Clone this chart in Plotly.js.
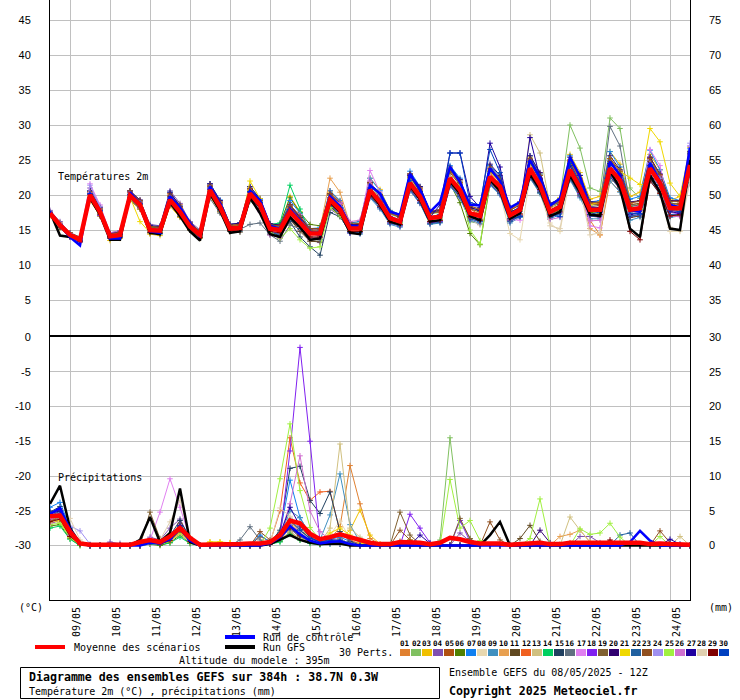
<!DOCTYPE html>
<html><head><meta charset="utf-8">
<script src="https://cdn.plot.ly/plotly-3.0.1.min.js"></script>
<style>html,body{margin:0;padding:0;background:#fff}</style>
</head><body><div id="chart" style="width:740px;height:700px"></div>
<script>
// ---- time axis: GEFS run 08/05/2025 12Z, 6-hourly steps up to 384h
const stepHours = 6, nSteps = 65;
const leadHours = Array.from({length: nSteps}, (_, i) => i * stepHours);
const dayLabels = ['09/05','10/05','11/05','12/05','13/05','14/05','15/05','16/05','17/05','18/05','19/05','20/05','21/05','22/05','23/05','24/05'];
const dayTickHours = dayLabels.map((_, k) => 12 + 24 * k);

const tempTicks = [5,10,15,20,25,30,35,40,45];
const tempTicksRight = ['35','40','45','50','55','60','65','70','75'];
const precipTicks = [0,5,10,15,20,25,30];
const precipTicksLeft = ['-30','-25','-20','-15','-10','-5','0'];
const precipTicksRight = ['0','5','10','15','20','25','30'];

const pertLabels = ['01','02','03','04','05','06','07','08','09','10','11','12','13','14','15','16','17','18','19','20','21','22','23','24','25','26','27','28','29','30'];
const pertColors = ['#e08030','#80c060','#f0c000','#8050b0','#b05010','#508000','#1080f0','#e8d8b0','#4090c0','#e8a050','#604820','#f06020','#d0c080','#00d060','#204060','#607080','#e080f0','#8020f0','#806030','#300070','#f0d800','#2060a0','#905020','#a090f0','#a0f040','#d070d0','#2000a0','#e0d0b0','#800000','#0040c0'];

// ---- 2m temperature (°C)
const tMean = [17.4,15.7, 14.3,13.6,20.0,17.6, 14.1,14.3,19.9,18.6, 15.0,14.9,19.3,17.6, 15.5,14.3,20.7,18.3, 15.2,15.3,20.2,18.6, 15.2,15.0,17.6,16.0, 14.5,14.5,19.3,17.9, 15.2,15.2,20.7,19.0, 16.7,16.2,21.7,19.8, 16.7,16.9,22.4,20.7, 17.4,17.0,22.6,21.2, 17.1,17.9,23.8,21.4, 17.6,18.3,23.6,21.0, 17.9,17.9,23.8,22.1, 17.9,18.1,23.8,21.7, 18.1,18.1,24.3];
const tControl = [17.6,15.6, 14.0,12.8,20.2,17.8, 13.8,13.8,20.4,18.7, 14.8,14.6,19.8,18.2, 16.0,14.0,21.2,18.8, 15.4,15.2,20.6,19.3, 15.6,15.2,18.0,16.4, 14.6,14.3,19.8,18.4, 15.6,15.5,21.4,20.2, 17.6,17.2,23.0,20.8, 17.6,19.0,24.0,21.8, 18.6,18.5,23.8,22.0, 18.2,19.0,25.0,22.5, 18.5,19.5,25.4,22.6, 18.2,17.8,24.8,22.8, 17.8,17.6,24.6,22.0, 18.6,18.2,26.8];
const tGFS = [17.6,14.2, 14.0,13.8,19.6,17.2, 13.6,13.6,20.0,18.4, 14.6,14.4,19.0,17.0, 14.8,13.5,20.2,17.8, 14.6,14.8,19.6,17.4, 14.4,14.0,16.8,15.4, 13.6,13.8,19.0,17.6, 14.6,14.4,20.4,18.6, 16.2,15.8,21.4,19.4, 16.2,16.4,22.0,20.2, 17.0,16.4,22.2,20.6, 16.6,17.4,23.0,20.8, 17.0,17.6,22.8,20.4, 17.2,17.0,23.4,21.0, 15.2,14.0,22.8,20.4, 15.2,15.0,25.0];
const t01 = [17.6,15.9, 14.5,13.8,19.6,17.2, 14.0,14.6,20.3,18.9, 15.4,15.1,19.0,17.1, 15.0,14.0,20.2,18.0, 14.8,15.0,19.5,17.9, 14.6,14.2,16.5,15.2, 13.8,14.0,18.8,17.5, 15.6,15.9,21.8,20.1, 17.4,16.8,22.5,20.4, 16.0,16.2,21.5,19.8, 16.8,16.5,23.1,21.9, 16.5,17.2,24.6,22.3, 18.2,18.8,24.9,22.1, 16.4,14.3,22.0,20.5, 17.2,17.6,24.5,22.8, 18.6,17.4,25.6];
const t02 = [17.3,15.5, 14.1,13.4,20.4,17.9, 14.3,14.1,19.5,18.2, 14.7,14.6,19.8,18.0, 15.8,14.6,21.1,18.7, 15.5,15.7,20.9,19.2, 15.6,15.4,18.6,16.9, 15.0,14.9,20.1,18.5, 15.8,15.6,21.4,19.6, 17.2,16.8,22.6,20.3, 17.3,17.5,23.4,21.6, 16.2,15.9,21.8,20.4, 16.3,17.0,23.1,20.6, 17.2,19.5,30.0,26.7, 21.0,20.5,31.0,29.5, 21.0,19.5,25.2,22.8, 19.0,18.2,26.3];
const t03 = [17.0,15.3, 14.0,13.2,19.2,17.0, 13.5,13.8,19.3,18.0, 14.4,14.2,18.4,16.8, 15.0,13.8,19.8,17.6, 14.8,15.0,19.2,17.8, 15.4,15.6,19.8,17.6, 14.8,15.0,20.4,19.2, 16.0,16.2,22.4,20.8, 17.8,17.2,22.4,20.6, 17.4,17.8,23.6,21.8, 18.4,17.9,23.4,21.8, 18.2,18.9,25.4,23.0, 18.6,19.6,25.8,23.2, 19.4,19.8,26.2,24.4, 19.8,20.4,25.8,23.6, 19.2,19.8,26.8];
const t04 = [17.8,16.2, 14.6,13.9,21.0,18.4, 14.6,14.9,20.5,19.2, 15.8,15.6,20.6,18.8, 16.2,15.0,21.6,19.2, 15.8,16.0,21.0,19.4, 15.2,14.6,16.4,15.0, 13.6,13.2,18.0,17.0, 14.6,14.8,20.2,18.6, 16.0,15.6,20.6,18.8, 16.0,16.2,21.4,19.6, 16.4,15.8,21.6,20.2, 16.2,17.0,22.4,20.4, 16.8,17.4,22.2,19.8, 17.0,16.8,22.6,20.8, 16.8,17.0,22.2,20.4, 17.0,17.2,21.8];
const t05 = [17.2,15.5, 14.0,13.3,19.4,17.2, 13.8,13.9,19.4,18.3, 14.8,14.6,20.2,18.6, 15.9,14.8,21.4,19.0, 15.6,15.8,20.9,19.2, 15.8,15.4,18.4,16.6, 15.0,15.0,20.6,19.0, 15.8,15.6,21.8,20.0, 17.4,16.8,23.0,21.0, 17.6,17.6,23.8,22.0, 18.0,17.6,23.8,22.2, 17.8,18.6,25.0,22.8, 18.6,19.0,24.8,22.2, 18.8,18.6,25.2,23.0, 18.6,18.8,25.4,22.8, 18.8,18.6,25.8];
const t06 = [17.3,15.6, 14.3,13.6,19.9,17.5, 14.1,14.4,19.8,18.5, 14.9,15.0,19.2,17.4, 15.4,14.4,20.6,18.2, 15.3,15.4,20.3,18.9, 15.7,15.9,19.6,17.5, 15.8,15.6,20.0,18.1, 15.2,14.8,19.9,18.2, 16.5,16.3,21.9,20.2, 16.6,16.4,21.6,18.9, 14.5,12.9,21.5,20.8, 17.6,18.1,23.0,20.8, 17.3,17.8,22.8,20.4, 17.5,17.4,23.5,21.7, 18.3,18.6,24.2,22.4, 18.4,18.3,24.0];
const t07 = [17.6,15.9, 14.5,13.8,20.6,18.2, 14.4,14.5,20.6,19.1, 15.6,15.5,20.4,18.4, 16.0,14.8,21.6,19.3, 15.8,16.0,21.2,19.4, 15.8,15.5,19.2,17.4, 15.2,15.3,20.6,19.2, 16.0,16.2,22.4,20.6, 17.8,17.2,23.4,21.2, 17.6,17.8,24.2,22.4, 18.2,17.8,24.2,22.6, 18.0,18.8,25.6,23.0, 18.4,19.0,25.6,22.8, 19.0,19.2,26.2,24.0, 19.4,19.8,26.4,23.6, 19.6,19.2,26.6];
const t08 = [17.3,15.8, 14.4,13.7,19.7,17.3, 14.0,14.1,19.6,18.3, 15.0,14.7,19.1,17.5, 15.1,14.0,20.4,17.9, 15.0,15.1,19.8,18.2, 14.4,14.1,16.2,15.0, 13.4,13.5,18.6,17.2, 14.9,15.1,20.5,18.6, 16.3,16.0,21.2,19.5, 16.3,16.8,22.0,20.5, 16.5,15.7,21.8,20.2, 14.5,13.6,22.5,20.2, 16.0,14.8,22.6,20.4, 17.0,17.2,23.3,21.1, 17.2,17.6,23.0,20.3, 14.8,14.8,23.0];
const t09 = [17.2,15.4, 14.0,13.3,19.6,17.2, 13.8,14.0,19.4,18.2, 14.6,14.4,18.6,17.0, 15.0,13.9,20.0,17.8, 14.8,14.8,19.2,17.8, 14.4,14.0,16.8,15.4, 13.8,13.6,18.4,17.0, 14.6,14.4,19.6,18.0, 15.8,15.4,20.6,18.8, 15.8,16.0,21.2,19.6, 16.4,16.0,21.4,20.0, 16.0,16.8,22.4,20.2, 16.6,17.2,22.2,19.6, 16.6,16.6,22.0,20.4, 16.4,16.8,22.2,20.0, 16.8,17.0,22.6];
const t10 = [17.5,15.7, 14.4,13.7,19.8,17.4, 14.1,14.2,19.8,18.6, 15.0,14.8,19.3,17.6, 15.4,14.3,20.6,18.2, 15.1,15.2,20.2,18.7, 15.3,15.1,18.0,16.5, 14.7,15.1,22.4,20.4, 15.8,15.6,21.0,19.3, 16.5,16.0,21.4,19.6, 16.6,16.8,22.3,20.6, 17.3,16.9,22.5,21.0, 17.0,17.7,23.6,21.2, 17.3,18.0,23.3,21.0, 15.2,14.3,22.6,21.3, 17.6,17.9,23.7,21.8, 17.6,17.7,24.1];
const t11 = [17.6,15.9, 14.4,13.9,19.4,17.0, 13.8,14.0,19.3,18.0, 14.6,14.5,18.6,16.9, 15.0,13.9,20.0,17.6, 14.8,14.7,19.4,17.8, 14.4,13.9,16.6,14.8, 13.4,13.3,18.4,17.0, 14.8,14.8,20.2,18.6, 16.2,15.8,21.2,19.3, 16.2,16.4,21.6,20.0, 16.8,16.4,21.8,20.4, 16.4,17.0,22.6,20.4, 16.8,17.4,22.4,20.0, 17.0,17.0,22.6,21.0, 16.8,17.0,22.4,20.4, 17.0,17.0,23.0];
const t12 = [17.5,15.8, 14.4,13.8,20.4,18.0, 14.3,14.5,20.4,19.0, 15.4,15.3,19.9,18.2, 15.8,14.7,21.2,18.9, 15.6,15.7,20.8,19.2, 15.7,15.6,18.2,16.6, 14.9,15.0,20.0,18.6, 15.8,15.7,21.6,19.9, 17.4,16.9,22.8,20.8, 17.4,17.6,23.4,21.6, 18.0,17.2,23.6,22.2, 18.0,18.6,25.0,22.4, 18.4,19.2,25.0,22.2, 18.8,18.8,25.2,23.4, 18.8,19.2,25.2,22.8, 19.2,19.0,26.0];
const t13 = [17.3,15.6, 14.2,13.6,20.1,17.6, 14.1,14.3,19.9,18.5, 15.0,14.9,19.4,17.7, 15.6,14.4,20.7,18.3, 15.2,15.2,20.1,18.6, 15.0,14.9,17.5,16.0, 14.4,14.5,19.3,17.8, 15.1,15.1,20.6,18.9, 16.6,16.1,21.7,19.8, 16.6,16.8,22.3,20.6, 17.3,16.9,22.5,21.1, 17.2,17.9,28.6,26.0, 18.5,18.2,23.5,20.9, 17.9,17.9,23.7,22.0, 17.8,18.0,23.8,21.6, 18.0,18.1,24.5];
const t14 = [17.5,15.8, 14.4,13.7,20.2,17.8, 14.2,14.4,20.1,18.7, 15.1,15.0,19.5,17.8, 15.6,14.4,20.9,18.5, 15.4,15.5,20.5,19.0, 15.8,16.0,21.4,18.0, 14.6,14.2,19.0,17.7, 15.0,15.0,20.5,18.9, 16.6,16.1,21.6,19.7, 16.5,16.7,22.2,20.5, 17.2,16.8,22.4,21.0, 17.0,17.8,23.6,21.2, 17.5,18.1,23.4,20.8, 17.7,17.8,23.6,21.9, 17.7,17.9,23.6,21.5, 17.9,18.0,24.3];
const t15 = [17.4,15.6, 14.2,13.5,19.9,17.5, 14.0,14.2,19.8,18.5, 14.9,14.8,19.1,17.4, 15.3,14.2,20.5,18.1, 15.0,15.1,19.8,18.3, 14.7,14.2,16.2,14.0, 12.6,11.4,17.5,16.9, 14.8,15.0,20.4,18.8, 16.5,16.0,21.5,19.6, 16.5,16.7,22.2,20.4, 17.1,16.7,22.4,20.9, 16.9,17.7,23.5,21.1, 17.4,18.0,23.3,20.8, 17.7,17.7,23.5,21.8, 17.6,17.8,23.5,21.4, 17.8,17.9,24.0];
const t16 = [17.4,15.7, 14.3,13.6,20.0,17.5, 14.1,14.3,19.8,18.5, 15.0,14.9,19.2,17.5, 15.4,14.8,19.5,17.4, 14.9,15.1,15.8,16.0, 14.3,13.4,15.7,15.2, 13.8,13.6,18.6,17.5, 15.0,15.1,20.7,19.0, 16.7,16.2,21.8,19.9, 16.8,17.0,22.6,20.8, 17.5,17.1,22.8,21.3, 17.2,18.0,24.0,21.6, 17.8,18.4,24.0,21.5, 18.3,18.5,29.8,27.0, 18.6,18.4,25.0,22.6, 18.4,18.5,24.9];
const t17 = [17.6,15.9, 14.6,14.0,21.6,18.6, 14.6,14.8,20.4,19.0, 15.3,15.0,19.6,17.9, 15.7,14.5,21.0,18.6, 15.3,15.4,20.3,18.7, 15.4,15.1,18.5,17.2, 15.1,15.0,20.2,18.9, 15.6,15.6,23.5,20.4, 17.0,16.5,22.0,20.1, 16.8,17.0,22.5,20.8, 17.3,16.8,22.6,21.2, 16.5,16.4,23.8,21.5, 17.2,17.5,23.4,21.3, 15.6,15.3,24.3,23.5, 18.2,18.4,26.5,24.2, 17.8,17.5,25.5];
const t18 = [17.3,15.5, 14.0,13.3,19.4,17.1, 13.9,14.0,19.5,18.2, 14.7,14.6,18.9,17.3, 15.2,14.1,20.2,18.0, 15.0,15.0,19.6,18.2, 14.8,14.5,17.4,15.8, 14.0,14.0,18.6,17.2, 14.6,14.6,19.8,18.2, 16.0,15.6,20.8,19.0, 16.0,16.2,21.4,19.8, 16.6,16.2,21.6,20.2, 16.3,17.0,22.6,20.6, 16.8,17.4,22.6,20.2, 17.0,17.0,22.8,21.2, 17.0,17.2,22.8,20.8, 17.2,17.4,27.0];
const t19 = [17.5,15.9, 14.6,14.0,20.4,17.9, 14.4,14.6,20.4,19.0, 15.4,15.3,19.8,18.1, 15.8,14.7,21.2,18.8, 15.5,15.6,20.6,19.0, 15.5,15.3,18.4,16.8, 15.0,15.0,20.0,18.5, 15.8,15.8,21.6,19.8, 17.4,16.8,22.6,20.6, 17.4,17.6,23.2,21.4, 18.0,17.6,23.4,22.0, 17.8,18.6,24.6,22.2, 18.4,19.0,24.6,21.8, 18.6,18.6,24.8,22.8, 18.6,18.8,24.8,22.4, 18.8,18.8,25.4];
const t20 = [17.4,15.6, 14.2,13.5,20.6,18.2, 14.5,14.7,20.6,19.3, 15.6,15.5,20.4,18.4, 16.0,14.8,21.6,19.2, 15.8,16.0,21.2,19.5, 15.9,15.7,18.6,16.8, 15.2,15.2,20.2,18.8, 15.8,15.8,21.8,20.0, 17.6,17.0,23.0,21.2, 17.6,17.8,24.0,22.2, 18.2,17.8,24.4,22.8, 18.2,19.0,25.6,23.2, 18.8,19.4,25.4,22.8, 19.0,19.0,25.6,23.6, 19.0,19.2,25.4,23.0, 19.2,19.2,26.2];
const t21 = [17.3,15.6, 14.2,13.6,19.8,17.4, 14.0,14.2,19.7,16.2, 14.6,14.6,19.0,17.3, 15.2,14.1,20.4,18.0, 15.0,15.1,22.0,19.5, 15.6,15.3,17.8,16.2, 14.6,14.6,19.5,18.1, 15.3,15.3,20.9,19.2, 16.8,16.3,21.9,19.9, 16.8,17.0,22.6,20.8, 17.5,17.1,22.8,21.3, 17.2,18.0,24.0,21.6, 17.8,18.4,24.2,21.8, 18.6,19.0,25.2,23.4, 22.4,21.5,29.5,27.6, 21.7,19.8,26.0];
const t22 = [17.2,15.5, 14.1,13.4,19.6,17.2, 13.8,14.0,19.5,18.3, 14.7,14.5,18.8,17.2, 15.1,14.0,20.2,17.9, 14.9,15.0,19.6,18.0, 14.6,14.4,16.6,15.2, 13.9,13.9,18.6,17.2, 14.6,14.6,19.8,18.2, 16.0,15.6,20.8,18.9, 15.9,16.1,21.4,19.8, 16.6,16.2,21.6,20.2, 16.2,17.0,22.6,20.4, 16.8,17.4,22.4,20.0, 17.0,17.0,22.6,21.0, 17.0,17.2,22.6,20.6, 17.2,17.2,23.2];
const t23 = [17.6,16.0, 14.6,13.9,20.5,18.1, 14.4,14.7,20.6,19.2, 15.5,15.4,20.0,18.3, 16.0,14.8,21.4,19.0, 15.7,15.8,20.9,19.2, 15.7,15.6,18.6,17.0, 15.2,15.2,20.2,18.8, 16.0,15.9,21.8,20.0, 17.6,17.1,23.0,21.0, 17.7,17.9,23.6,21.8, 18.4,18.0,24.0,22.4, 18.2,19.0,25.2,22.8, 18.6,19.3,25.0,22.4, 18.9,18.9,25.2,23.4, 18.9,19.1,25.2,22.9, 19.1,19.1,25.9];
const t24 = [17.6,15.9, 14.5,13.8,21.4,18.3, 14.3,14.5,20.1,18.8, 15.2,15.0,19.5,17.8, 15.6,14.5,20.9,18.5, 15.4,15.4,20.3,18.7, 15.3,15.0,17.6,16.0, 14.5,14.5,19.3,17.9, 15.2,15.2,20.7,19.0, 16.7,16.2,21.7,19.8, 16.7,16.9,22.4,20.7, 17.4,17.0,22.6,21.2, 17.1,17.9,23.8,21.4, 17.6,18.3,23.6,21.0, 17.9,17.9,23.8,22.1, 17.9,18.1,24.5,22.4, 18.3,18.4,27.4];
const t25 = [17.4,15.7, 14.3,13.6,19.9,17.5, 14.0,14.3,19.8,18.5, 14.9,14.8,19.2,17.5, 15.4,14.3,20.6,18.2, 15.1,15.2,20.1,18.5, 14.8,13.8,15.2,13.6, 12.4,12.6,18.2,17.0, 15.0,15.1,20.6,18.9, 16.6,16.1,21.6,19.8, 16.5,16.7,22.5,21.2, 15.0,13.0,22.0,20.8, 17.0,17.8,23.5,21.2, 17.5,18.2,23.5,21.0, 17.8,17.8,23.6,21.9, 17.8,18.0,23.7,21.6, 18.0,18.0,24.3];
const t26 = [17.5,15.8, 14.4,13.8,20.3,17.8, 14.2,14.4,20.1,18.8, 15.2,15.1,19.6,17.9, 15.7,14.5,21.0,18.6, 15.3,15.2,19.8,17.6, 14.3,13.9,16.8,15.4, 13.8,13.9,19.6,18.8, 16.2,16.4,22.0,19.6, 16.9,16.5,21.8,19.8, 16.7,16.9,22.5,20.8, 17.4,17.0,22.7,21.3, 17.2,18.0,23.8,21.4, 16.5,16.8,23.0,20.4, 16.3,16.4,23.5,22.4, 17.6,17.8,24.0,21.8, 17.0,16.9,24.0];
const t27 = [17.4,15.7, 14.2,13.5,20.1,17.7, 14.1,14.3,20.0,18.7, 15.1,15.0,19.4,17.7, 15.6,14.4,20.8,18.4, 15.3,15.4,20.4,18.7, 15.3,15.1,17.7,16.1, 14.6,14.6,19.4,18.0, 15.3,15.3,20.8,19.1, 16.8,16.3,22.8,20.5, 16.8,18.6,26.0,26.0, 19.8,18.2,27.4,24.0, 17.5,18.3,28.2,22.4, 17.8,18.6,24.2,21.6, 18.2,18.2,24.5,22.8, 17.2,17.4,23.0,21.2, 17.6,17.4,24.0];
const t28 = [17.3,15.6, 14.2,13.6,19.8,17.3, 13.9,14.1,19.6,18.3, 14.8,14.7,19.0,17.3, 15.2,14.1,20.4,18.0, 14.9,15.0,19.9,18.3, 14.9,14.6,17.0,15.4, 14.0,14.1,18.9,17.5, 14.9,14.9,20.4,18.7, 16.4,15.9,21.4,19.5, 16.4,16.6,22.1,20.4, 17.0,16.6,22.3,20.9, 16.6,17.4,23.4,21.0, 15.6,15.2,23.0,20.8, 14.3,14.6,23.2,21.6, 17.4,17.5,23.3,21.2, 15.4,14.9,22.0];
const t29 = [17.2,15.4, 14.1,13.4,19.6,17.3, 13.9,14.1,19.6,18.3, 14.7,14.6,19.0,17.2, 15.1,14.0,20.2,17.9, 14.9,15.0,19.7,18.1, 14.8,14.6,17.0,15.5, 14.0,14.0,18.8,17.4, 14.8,14.8,20.0,18.4, 16.2,15.8,21.0,19.2, 16.2,16.4,21.8,20.2, 16.9,16.4,22.0,20.6, 16.6,17.3,23.0,20.8, 17.0,17.6,22.8,20.4, 17.2,17.2,23.4,21.2, 14.8,13.6,22.0,20.2, 17.0,17.2,24.0];
const t30 = [17.5,15.8, 14.4,13.7,20.2,17.8, 14.2,14.4,20.1,18.8, 15.2,15.1,19.6,17.9, 15.7,14.5,21.0,18.6, 15.4,15.5,20.5,18.9, 15.4,15.2,17.9,16.3, 14.8,14.8,19.6,18.2, 15.4,15.4,21.0,19.3, 16.9,16.4,22.1,20.2, 16.9,17.2,26.0,26.0, 18.9,18.6,26.5,23.2, 16.6,16.9,24.8,22.0, 17.2,16.9,24.5,21.8, 17.2,17.6,24.3,22.0, 17.4,17.3,24.2,21.4, 17.8,17.6,26.0];

// ---- 6h precipitation (mm)
const pMean = [4.2,4.3,2.0,0.3,0.1, 0.1,0.1,0.1,0.1,0.5, 0.8,0.5,1.3,2.5,1.1, 0.1,0.1,0.1,0.1,0.2, 0.3,0.3,0.5,1.5,3.6, 3.2,1.7,0.9,1.2,1.6, 1.2,0.8,0.4,0.2,0.2, 0.5,0.5,0.4,0.2,0.4, 1.1,0.9,0.5,0.3,0.3, 0.3,0.1,0.2,0.3,0.4, 0.2,0.2,0.4,0.4,0.3, 0.3,0.4,0.3,0.3,0.4, 0.2,0.3,0.2,0.2,0.1];
const pControl = [4.5,5.4,2.3,0.3,0, 0,0,0,0,0, 0.4,0.3,0.9,2.4,0.7, 0,0,0,0,0, 0,0,0.3,1.2,2.8, 1.6,0.7,0.3,0.5,0.6, 0.2,0,0,0,0, 0,0,0,0,0, 0,0,0,0,0, 0,0,0,0,0, 0,0,0,0,0, 0,0,0,0.5,2.1, 0.7,0,0,0,0];
const pGFS = [6.0,8.6,2.5,0.3,0, 0,0,0,0,0.8, 4.1,0.5,1.8,8.2,0.5, 0,0,0,0,0, 0,0,0.2,0.8,1.5, 0.8,0.4,0.2,0.3,0.3, 0,0,0,0,0, 0,0,0,0,0, 0,0,0,0,1.5, 3.4,0,0,0,0, 0,0,0,0,0, 0,0,0,0,0, 0,0,0,0,0];
const p01 = [3.5,4.2,1.5,0.2,0, 0,0,0,0,0.3, 0.6,0.4,1.0,2.2,0.8, 0,0,0,0,0, 0,0,0.2,0.8,2.0, 1.0,0.5,0.3,0.8,2.7, 11.5,6.0,1.0,0.2,0, 0,0,0,0,0, 0,0,0,0,0, 0,0,0,0,0.3, 0,0.2,0.4,0,0, 0,0,0,0,0, 0,0,0,0,0];
const p02 = [4.0,5.0,2.2,0.3,0, 0,0,0,0,0, 0.3,0.2,0.8,2.8,1.2, 0,0,0,0,0, 0,0,0.4,1.2,2.8, 1.6,0.8,0.3,0.5,0.6, 0.4,0.2,0,0,0, 0,0,0,0,0.8, 15.5,3.6,1.0,0,0, 0,0,0,0,0, 0,0,0,0,0, 0,0,0.5,0.3,0, 0,0,0,0,0];
const p03 = [4.5,3.8,1.4,0.1,0, 0,0,0,0,0.2, 0.5,0.3,0.6,1.8,0.5, 0,0.5,0.5,0.4,0, 0,0,0.3,1.5,3.2, 2.0,1.2,0.4,0.6,1.0, 2.2,5.1,1.5,0.2,0, 0,0.8,0,0,0, 0,0,0,0,0, 0,0,0,0,0, 0,0,0,0,0, 0,0,0,0,0, 0,0,0,0,0];
const p04 = [5.0,4.6,1.8,0.4,0, 0,0.5,0.3,0,0.2, 1.2,0.8,2.5,3.8,1.0, 0,0,0,0,0, 0,0,0.3,1.0,2.4, 1.2,0.6,0.2,0.4,0.3, 0,0,0,0,0, 0,0,0,0,0, 0,1.8,0.6,0,0, 0,0,0,0,0, 0,0,0,1.3,1.3, 0.4,0,0,0,0, 0,0,0,0,0];
const p05 = [3.2,3.6,1.2,0.2,0, 0,0,0,0,0, 0.4,0.2,0.7,2.0,0.6, 0,0,0,0,0, 0,1.3,0.6,1.8,3.5, 2.2,1.0,0.5,0.8,0.4, 0.2,0,0,0,0, 0.6,0.3,0,0,0, 0,0,0,0,0, 0,0,0,0,0, 0,0,0,0,0, 0,0,0,0,0, 0,0,0,0,0];
const p06 = [2.8,3.0,1.0,0,0, 0,0,0,0,0, 0.2,0,0.4,1.5,0.3, 0,0,0,0,0, 0,0,0.2,0.6,1.8, 0.8,0.4,0.2,0.3,0.2, 0,0,0,0,0, 0,0,0,0,0, 0,0,0,0,0, 0,0,0,0,0, 0,0,0,0,0, 0,0,0,0,0, 0,0,0,0,0];
const p07 = [5.5,6.2,2.6,0.3,0, 0,0,0,0,0, 0.5,0.3,0.9,2.6,0.8, 0,0,0,0,0, 0,1.5,0.5,1.8,9.4, 4.0,1.5,0.6,0.9,1.2, 0.6,0.3,0,0,0, 0,0,0,0,0, 0,0,0,0,0, 0,0,0,0,0, 0,0,0,0,0, 0,0,0,0,0, 0,0,0,0,0];
const p08 = [3.0,3.4,2.0,0.5,0, 0,0,0,0,0, 0.3,0.2,1.2,3.0,0.8, 0,0,0,0,0, 0,0,0.3,2.0,4.0, 2.5,1.2,0.5,1.5,3.5, 1.0,0.3,0,0,0, 0,0,0,0,0, 0,0,0,0,0, 0,0,0,0,0, 0,0,0,0,0, 0,0,0,0,0, 0,0,0,0,0];
const p09 = [4.2,4.0,1.6,0.2,0, 0,0,0,0,0, 0.4,0.3,0.8,2.4,0.7, 0,0,0,0,0, 0,0,0.3,1.4,5.0, 4.0,1.6,0.8,4.4,10.3, 3.0,0.5,0,0,0, 0,0,0,0,0, 0,0,0,0,0, 0,0,0,0,0, 0,0,0,0,0, 0,0,0,0,0, 0,0,0,0,0];
const p10 = [3.8,4.4,1.7,0.3,0, 0,0,0,0,0, 0.4,0.3,1.0,2.6,0.9, 0,0,0,0,0, 0,0,0.3,1.2,3.0, 1.8,0.8,0.4,0.7,0.9, 0.3,0,0,0,0, 0,0,0,0,0, 0,0,0,0,0, 0,0,0,0,0, 0,1.3,1.6,2.2,0.5, 0,0,0,0,0, 0,0,0,0,0];
const p11 = [3.4,3.9,1.3,0.2,0, 0,0,0,0,0, 0.5,0.3,0.7,2.2,0.6, 0,0,0,0,0, 0,0,0.2,1.0,2.6, 1.5,0.7,0.3,0.4,0.5, 0,0,0,0,0, 0,0,0,0,0, 0,0,0,0,0, 0,0,1.0,2.9,0.6, 0,0,0,0,0, 0,0,0,0,0, 0,0,0,0,0];
const p12 = [4.6,5.2,2.0,0.3,0, 0,0,0,0,0, 0.6,0.4,1.2,3.2,1.0, 0,0,0,0,0, 0,0,0.4,5.0,15.5, 9.0,6.5,7.7,7.8,2.0, 0.8,0.2,0,0,0, 0,0,0,0,0, 0,0,0,0,0, 0,0,0,0,0, 0,0,0,0,0, 0,0,0,0,0, 0,0,0,0,0];
const p13 = [3.6,3.3,1.1,0.1,0, 0,0,0,0,0, 0.3,0.2,0.6,1.6,0.4, 0,0,0,0,0, 0,0,0.2,0.8,2.0, 1.0,0.5,0.3,2.5,14.6, 2.5,1.2,0.3,0,0, 0,0,0,0,0, 0,0,0,0,0, 0,0,0,0,0, 0,0,4.1,2.2,0.5, 0,0,0,0,0, 0,0,0,1.3,0];
const p14 = [2.5,2.8,0.9,0,0, 0,0,0,0,0, 0.2,0.1,0.4,1.2,0.3, 0,0,0,0,0, 0,0,0.2,0.5,1.6, 0.8,0.3,0.1,0.2,0.2, 0,0,0,0,0, 0,0,0,0,0, 0,0,0,0,0, 0,0,0,0,0, 0,0,0,0,0, 0,0,0,0,0, 0,0,0,0,0];
const p15 = [4.8,5.6,2.4,0.4,0, 0,0,0,0,0, 0.6,0.5,1.4,3.6,1.1, 0,0,0,0,0, 0,0,0.4,2.2,11.1, 11.4,6.5,4.6,7.7,2.0, 0.6,0,0,0,0, 0,0,0,0,0, 0,0,0,0,0, 0,0,0,0,0, 0,0,0,0,0, 0,0,0,0,0, 0,0,0,0,0];
const p16 = [3.9,4.1,1.5,0.2,0, 0,0,0,0,0, 0.4,0.3,0.9,2.3,0.7, 0,0,0,0,0.8, 2.7,0.8,0.3,1.2,2.4, 1.3,0.6,0.3,0.5,0.6, 0.2,0,0,0,0, 0,0,0,0,0, 0,0,0,0,0, 0,0,0,0,0, 0,0,0,0,0, 0,0,0,0,0, 0,0,0,0,0];
const p17 = [4.4,4.8,1.9,0.3,0, 0,0,0,0,0.3, 0.8,4.8,9.6,5.5,1.0, 0,0,0,0,0, 0,0,0.3,1.4,3.4, 2.0,0.9,0.4,0.6,0.8, 0.3,0,0,0,0, 0,0,0,0,0, 0,0,0,0,0, 0,0,0,0,0, 0,0,0,0,0, 0,0,0,0,0, 0,0,0,0,0];
const p18 = [3.1,3.7,1.4,0.2,0, 0,0,0,0,0, 0.3,0.2,0.7,2.1,0.5, 0,0,0,0,0, 0,0,0.3,1.0,13.6, 28.5,15.0,0.5,0.3,0.2, 0,0,0,0,0, 0,4.5,2.5,0.4,0, 0,3.6,0.6,0,0, 0,0,0,0,0, 0,0,0,0,0, 0,0,0,0,0, 0,0,0,0,0];
const p19 = [3.7,4.3,1.6,0.2,0, 0,0,0,0,0, 4.8,1.0,0.8,2.5,0.8, 0,0,0,0,0, 0,0,0.2,1.1,2.8, 1.6,0.8,0.4,0.6,0.7, 0.2,0,0,0,0, 4.8,1.5,0.2,0,0, 0,3.9,1.0,0,0, 0,0,0,0,0, 0,0,0,0,0, 0,0,0,0,0, 0,0,0,0,0];
const p20 = [4.1,4.5,1.7,0.2,0, 0,0,0,0,0, 0.5,0.3,0.9,2.6,0.8, 0,0,0,0,0, 0,0,0.3,1.3,3.0, 1.8,0.8,0.4,0.6,0.7, 0.2,0,0,0,0, 0,0,0,0,0, 0,0,0,0,0, 0,0,0,0,2.2, 0.4,0,0,0,0, 0,0,0,0,0, 0,0,0,0,0];
const p21 = [3.3,3.6,1.2,0.1,0, 0,0,0,0,0, 0.3,0.2,0.6,1.9,0.5, 0,0.5,0.5,0.4,0, 0,0,0.3,1.2,3.4, 2.2,1.4,0.6,1.8,2.5, 1.5,0.4,0,0,0, 0,0,0,0,0, 0,0,0,0,0, 0,0,0,0,0, 0,0,0,0,0, 0,0,0,0,0, 0,0,0,0,0];
const p22 = [4.3,4.9,2.1,0.3,0, 0,0,0,0,0, 0.4,0.3,1.0,2.8,0.9, 0,0,0,0,0, 0,0,0.3,1.5,3.8, 2.3,1.0,0.5,0.7,0.8, 0.3,0,0,0,0, 0,0,0,0,0, 0,0,0,0,0, 0,0,0,0,0, 0,0,0,0,0, 0,0,1.5,1.8,0, 0,0,0,0,0];
const p23 = [3.5,4.0,1.4,0.2,0, 0,0,0,0,0, 0.4,0.2,0.8,2.3,0.7, 0,0,0,0,0, 0,2.0,0.8,1.2,2.6, 1.4,0.7,0.3,0.5,0.6, 0.2,0,0,0,0, 2.2,0.8,0,0,0, 0,0,0,0,3.4, 0.8,0,0,0,0, 0,0,0,0,0, 0,0,0,0,0, 0,2.1,0.4,0,0];
const p24 = [4.0,4.4,2.8,2.1,0.2, 0,0,0,0,0, 0.4,0.3,0.8,2.4,0.7, 0,0,0,0,0, 0,0,0.2,1.2,3.0, 1.8,0.8,0.4,0.6,0.7, 0.3,0,0,0,0, 0,0,0,0,0, 0,0,0,0,0, 0,0,0,0,0, 0,0,0,0,0, 0,0,0,0,0, 0,0,0,0,0];
const p25 = [3.0,3.2,1.2,0.2,0, 0,0,0,0,0, 0.3,0.2,0.7,2.0,0.6, 0,0,0,0,0, 0,0,2.5,9.6,17.5, 7.9,2.6,0.8,0.5,0.4, 0.2,0,0,0,0, 0,0,0,0,0, 9.5,2.5,3.6,0.7,0, 0,0,0,1.0,6.7, 0,0,0,2.4,1.6, 1.8,3.2,1.2,0,0, 0,1.3,0,0,0];
const p26 = [3.8,4.2,1.5,0.2,0, 0,0,0,0,0, 0.4,0.3,0.9,2.4,0.7, 0,0,0,0,0, 0,0,0.3,1.4,6.0, 12.9,5.0,2.0,0.8,0.6, 0.2,0,0,0,0, 0,0,0,0,0, 0,0,0,0,0, 0,0,0,0,0, 0,0,0,0,0, 0,0,0,0,0, 0,0,0,0,0];
const p27 = [4.6,5.0,2.0,0.3,0, 0,0,0,0,0, 0.5,0.4,1.1,2.9,0.9, 0,0,0,0,0, 0,0,0.3,1.6,5.5, 2.8,1.2,0.5,0.8,0.9, 0.3,0,0,0,0, 0,0,1.5,0.3,0, 0,0,0,0,0, 0,0,0,0,0, 0,0,0,0,0, 0,0,0,0,0, 0,0,0.9,0.2,0];
const p28 = [3.2,3.9,3.9,0.8,0, 0,0,0,0,0, 0.3,0.8,3.4,6.5,1.2, 0,0,0,0,0, 0,0,0.3,5.4,4.2, 2.0,0.9,0.4,0.7,0.9, 0.3,0,0,0,0, 0,0,0,0,0, 0,0,0,0,0, 0,0,0,0,0, 0,0,0,0,0, 0,0,0,0,0, 0,0,0,0,0];
const p29 = [3.4,3.8,1.3,0.2,0, 0,0,0,0,0, 0.4,0.2,0.7,2.2,0.6, 0,0,0,0,0, 0,0,0.2,1.0,2.6, 1.5,0.7,0.3,0.5,0.6, 0.2,0,0,0,0, 0,0,0,0,0, 0,0,0,0,0, 0,0,0,0,0, 0,0,0,0,0, 0,0.8,0,0,0, 0,0,0,0,0];
const p30 = [4.7,5.3,2.2,0.3,0, 0,0,0,0,0, 0.5,0.4,1.0,2.7,0.8, 0,0,0,0,0, 0,0,0.3,1.5,3.6, 2.2,1.0,0.5,0.7,0.8, 0.3,0,0,0,0, 0,0,0,0,0, 0,0,0,0,0, 0,0,0,0,0, 0,0,0,0,0, 0,0,0,0,0, 0,0,0,0,0];

const tempPerts = [t01,t02,t03,t04,t05,t06,t07,t08,t09,t10,t11,t12,t13,t14,t15,t16,t17,t18,t19,t20,t21,t22,t23,t24,t25,t26,t27,t28,t29,t30];
const precipPerts = [p01,p02,p03,p04,p05,p06,p07,p08,p09,p10,p11,p12,p13,p14,p15,p16,p17,p18,p19,p20,p21,p22,p23,p24,p25,p26,p27,p28,p29,p30];

[...tempPerts, ...precipPerts, tMean, tControl, tGFS, pMean, pControl, pGFS].forEach((a, k) => {
  if (a.length !== nSteps) throw new Error('series ' + k + ' has ' + a.length + ' values');
});

// ---- traces
const traces = [];
function member(y, color, xa, ya) {
  return {x: leadHours, y, xaxis: xa, yaxis: ya, type: 'scatter', mode: 'lines+markers',
    line: {color, width: 1}, marker: {symbol: 'cross-thin', size: 4, line: {color, width: 1}},
    hoverinfo: 'skip', showlegend: false};
}
function thick(y, color, width, xa, ya) {
  return {x: leadHours, y, xaxis: xa, yaxis: ya, type: 'scatter', mode: 'lines',
    line: {color, width}, hoverinfo: 'skip', showlegend: false};
}
tempPerts.forEach((s, k) => traces.push(member(s, pertColors[k], 'x', 'y')));
precipPerts.forEach((s, k) => traces.push(member(s, pertColors[k], 'x2', 'y2')));
traces.push(thick(tGFS, '#000000', 2.5, 'x', 'y'));
traces.push(thick(tControl, '#0000ff', 2.5, 'x', 'y'));
traces.push(thick(pGFS, '#000000', 2.5, 'x2', 'y2'));
traces.push(thick(pControl, '#0000ff', 2.5, 'x2', 'y2'));
traces.push(thick(tMean, '#ff0000', 4.5, 'x', 'y'));
traces.push(thick(pMean, '#ff0000', 4.5, 'x2', 'y2'));
// carriers for the right-hand axes
traces.push({x: [0], y: [null], xaxis: 'x', yaxis: 'y3', type: 'scatter', mode: 'lines', hoverinfo: 'skip', showlegend: false});
traces.push({x: [0], y: [null], xaxis: 'x2', yaxis: 'y4', type: 'scatter', mode: 'lines', hoverinfo: 'skip', showlegend: false});

// ---- layout helpers (pixel -> paper coordinates of the 640x600 plot area)
const PX = x => (x - 50) / 640, PY = y => (600 - y) / 600;
const mono = 'DejaVu Sans Mono, monospace';
const sans = 'Liberation Sans, Arial, sans-serif';
function txt(x, y, text, extra) {
  return Object.assign({xref: 'paper', yref: 'paper', x: PX(x), y: PY(y), text, showarrow: false,
    xanchor: 'left', yanchor: 'middle', borderpad: 0, font: {family: mono, size: 10, color: '#000'}}, extra || {});
}
const annotations = [
  txt(57, 176, 'Températures 2m'),
  txt(57, 477, 'Précipitations'),
  txt(18, 607, '(°C)'),
  txt(708, 607, '(mm)'),
  txt(73, 647, 'Moyenne des scénarios'),
  txt(262, 637, 'Run de contrôle'),
  txt(262, 647, 'Run GFS'),
  txt(338, 652, '30 Perts.'),
  txt(178, 660, 'Altitude du modele : 395m'),
  txt(28, 677, '<b>Diagramme des ensembles GEFS sur 384h : 38.7N 0.3W</b>', {font: {family: mono, size: 11.6, color: '#000'}}),
  txt(28, 691, 'Température 2m (°C) , précipitations (mm)'),
  txt(448, 672, 'Ensemble GEFS du 08/05/2025 - 12Z'),
  txt(448, 691, '<b>Copyright 2025 Meteociel.fr</b>', {font: {family: mono, size: 11.6, color: '#000'}})
];
pertLabels.forEach((lab, k) => annotations.push(
  txt(405 + 11 * k, 643, '<b>' + lab + '</b>', {xanchor: 'center', font: {family: mono, size: 7.5, color: '#000'}})));

const shapes = [
  {type: 'line', xref: 'paper', yref: 'paper', x0: PX(35), x1: PX(65), y0: PY(647), y1: PY(647), line: {color: '#ff0000', width: 4}},
  {type: 'line', xref: 'paper', yref: 'paper', x0: PX(225), x1: PX(255), y0: PY(637), y1: PY(637), line: {color: '#0000ff', width: 4}},
  {type: 'line', xref: 'paper', yref: 'paper', x0: PX(225), x1: PX(255), y0: PY(647), y1: PY(647), line: {color: '#000000', width: 4}},
  {type: 'rect', xref: 'paper', yref: 'paper', x0: PX(20.5), x1: PX(439.5), y0: PY(667.5), y1: PY(698.5), line: {color: '#000', width: 1}, fillcolor: 'rgba(0,0,0,0)'}
];
pertColors.forEach((c, k) => shapes.push({type: 'rect', xref: 'paper', yref: 'paper',
  x0: PX(400 + 11 * k), x1: PX(410 + 11 * k), y0: PY(656), y1: PY(649), line: {width: 0}, fillcolor: c}));

const grid = '#c0c0c0';
const tickFont = {family: sans, size: 11, color: '#000'};
const topRange = [0, 335 / 7];
const botRange = [-(600 - 545.5) / 6.95, 30];
const layout = {
  width: 740, height: 700,
  margin: {l: 50, r: 50, t: 0, b: 100, pad: 0},
  paper_bgcolor: '#fff', plot_bgcolor: '#fff',
  showlegend: false,
  xaxis: {domain: [0, 1], anchor: 'y', range: [0, 384], tickmode: 'array', tickvals: dayTickHours, showticklabels: false,
    ticks: '', showgrid: true, gridcolor: grid, gridwidth: 1, zeroline: false, showline: true, linecolor: '#000', linewidth: 1},
  xaxis2: {domain: [0, 1], anchor: 'y2', range: [0, 384], tickmode: 'array', tickvals: dayTickHours, ticktext: dayLabels,
    tickangle: -90, ticklabelshift: 7, ticklabelstandoff: 2, tickfont: {family: mono, size: 10, color: '#000'},
    ticks: '', showgrid: true, gridcolor: grid, gridwidth: 1, zeroline: false, showline: true, mirror: true, linecolor: '#000', linewidth: 1},
  yaxis: {domain: [(600 - 335) / 600, 1], anchor: 'x', range: topRange, tickmode: 'array', tickvals: tempTicks,
    ticktext: tempTicks.map(String), tickfont: tickFont, ticks: '', ticklabelstandoff: 16,
    showgrid: true, gridcolor: grid, gridwidth: 1, zeroline: false, showline: true, mirror: true, linecolor: '#000', linewidth: 1},
  yaxis3: {overlaying: 'y', side: 'right', anchor: 'x', range: topRange, tickmode: 'array', tickvals: tempTicks,
    ticktext: tempTicksRight, tickfont: tickFont, ticks: '', ticklabelstandoff: 18, showgrid: false, zeroline: false, showline: false},
  yaxis2: {domain: [0, (600 - 337) / 600], anchor: 'x2', range: botRange, tickmode: 'array', tickvals: precipTicks,
    ticktext: precipTicksLeft, tickfont: tickFont, ticks: '', ticklabelstandoff: 16,
    showgrid: true, gridcolor: grid, gridwidth: 1, zeroline: false, showline: true, mirror: true, linecolor: '#000', linewidth: 1},
  yaxis4: {overlaying: 'y2', side: 'right', anchor: 'x2', range: botRange, tickmode: 'array', tickvals: precipTicks,
    ticktext: precipTicksRight, tickfont: tickFont, ticks: '', ticklabelstandoff: 18, showgrid: false, zeroline: false, showline: false},
  annotations, shapes
};
Plotly.newPlot('chart', traces, layout, {displayModeBar: false, staticPlot: true});
</script></body></html>
